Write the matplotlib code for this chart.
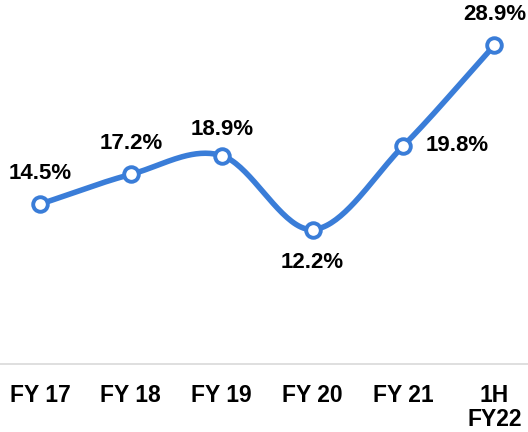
import numpy as np
import matplotlib
matplotlib.use("Agg")
import matplotlib.pyplot as plt

plt.rcParams['font.family'] = ['Liberation Sans', 'DejaVu Sans']

periods = ["FY 17", "FY 18", "FY 19", "FY 20", "FY 21", "1H\nFY22"]
margins = [14.5, 17.2, 18.9, 12.2, 19.8, 28.9]
labels = ["14.5%", "17.2%", "18.9%", "12.2%", "19.8%", "28.9%"]

blue = "#3A7DD8"


def catmull_rom(xs, ys, steps=40):
    # smooth curve through the points, like the spreadsheet "smoothed line"
    px = np.concatenate([[2 * xs[0] - xs[1]], xs, [2 * xs[-1] - xs[-2]]])
    py = np.concatenate([[2 * ys[0] - ys[1]], ys, [2 * ys[-1] - ys[-2]]])
    out_x, out_y = [], []
    for i in range(1, len(px) - 2):
        t = np.linspace(0, 1, steps)
        for p, out in ((px, out_x), (py, out_y)):
            p0, p1, p2, p3 = p[i - 1], p[i], p[i + 1], p[i + 2]
            out.extend(0.5 * ((2 * p1) + (-p0 + p2) * t
                              + (2 * p0 - 5 * p1 + 4 * p2 - p3) * t ** 2
                              + (-p0 + 3 * p1 - 3 * p2 + p3) * t ** 3))
    return np.array(out_x), np.array(out_y)


x = np.arange(len(periods))
y = np.array(margins)

fig = plt.figure(figsize=(5.28, 4.32), dpi=100)
ax = fig.add_axes([0, 0.157, 1, 0.843])

sx, sy = catmull_rom(x.astype(float), y)
ax.plot(sx, sy, color=blue, lw=4, solid_capstyle='round', zorder=2)
ax.plot(x, y, 'o', ms=10.5, mfc='white', mec=blue, mew=2.8, zorder=3)

# label offsets in points (dx, dy)
offsets = [(0, 22), (0, 22), (0, 19), (0, -24), (39, 0), (0, 22)]
for xi, yi, lab, (dx, dy) in zip(x, y, labels, offsets):
    ax.annotate(lab, (xi, yi), xytext=(dx, dy), textcoords='offset points',
                ha='center', va='center', fontsize=16, fontweight='bold')

ax.set_xlim(-0.44, 5.37)
ax.set_ylim(0, 33)
ax.set_xticks(x)
ax.set_xticklabels(periods, fontsize=16.5, fontweight='bold', linespacing=1.05)
ax.tick_params(axis='x', length=0, pad=14)
ax.set_yticks([])
for s in ['top', 'left', 'right']:
    ax.spines[s].set_visible(False)
ax.spines['bottom'].set_color('#d9d9d9')
ax.spines['bottom'].set_linewidth(1.2)

fig.savefig("out.png", dpi=100)
